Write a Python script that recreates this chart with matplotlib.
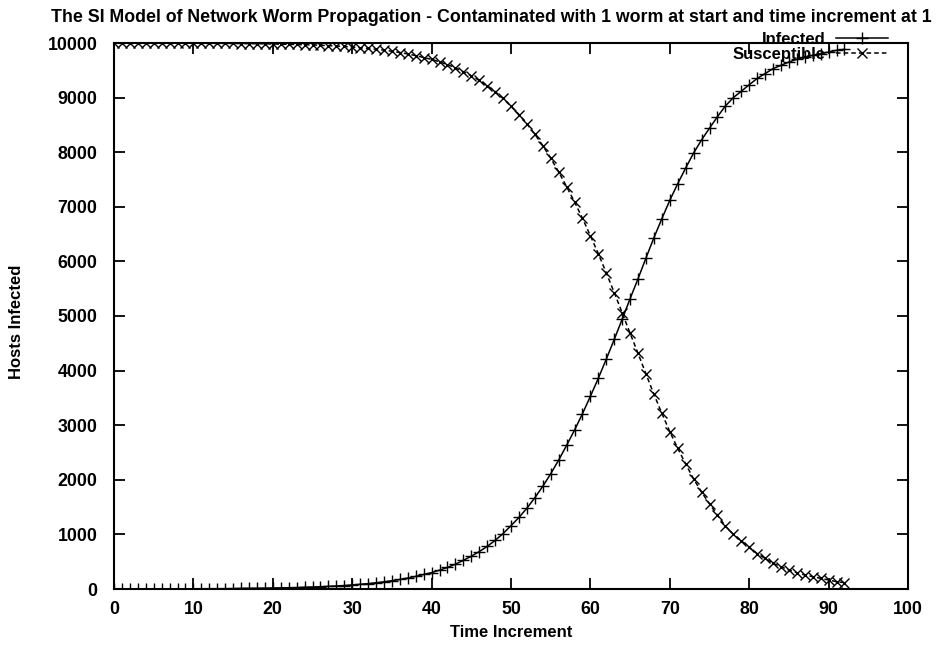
import matplotlib
matplotlib.use("Agg")
import matplotlib.pyplot as plt
from matplotlib.lines import Line2D

time = list(range(0, 93))
infected = [1, 1, 1, 2, 2, 2, 2, 3, 3, 4,
            4, 5, 6, 6, 7, 9, 10, 12, 13, 15,
            18, 21, 24, 27, 32, 36, 42, 48, 56, 64,
            74, 86, 99, 114, 131, 152, 174, 201, 231, 266,
            300, 345, 395, 455, 525, 600, 685, 780, 890, 1015,
            1160, 1310, 1480, 1670, 1880, 2110, 2360, 2630, 2910, 3210,
            3530, 3860, 4210, 4570, 4940, 5317, 5683, 6062, 6434, 6782,
            7119, 7424, 7711, 7985, 8225, 8440, 8650, 8846, 9000, 9115,
            9236, 9350, 9440, 9530, 9591, 9652, 9701, 9744, 9774, 9805,
            9835, 9866, 9884]
susceptible = [9999, 9999, 9999, 9998, 9998, 9998, 9998, 9997, 9997, 9996,
               9996, 9995, 9994, 9994, 9993, 9991, 9990, 9988, 9987, 9985,
               9982, 9979, 9976, 9973, 9968, 9964, 9958, 9952, 9944, 9936,
               9926, 9914, 9901, 9886, 9869, 9848, 9826, 9799, 9769, 9734,
               9700, 9655, 9605, 9545, 9475, 9400, 9315, 9220, 9110, 8985,
               8840, 8690, 8520, 8330, 8120, 7890, 7640, 7370, 7090, 6790,
               6470, 6140, 5790, 5430, 5060, 4683, 4317, 3938, 3566, 3218,
               2881, 2576, 2289, 2015, 1775, 1560, 1350, 1154, 1000, 885,
               764, 650, 560, 470, 409, 348, 299, 256, 226, 195,
               165, 134, 116]

x_ticks = [0, 10, 20, 30, 40, 50, 60, 70, 80, 90, 100]
y_ticks = [0, 1000, 2000, 3000, 4000, 5000, 6000, 7000, 8000, 9000, 10000]

plt.rcParams['font.family'] = ['Liberation Sans', 'DejaVu Sans']

W, H = 936, 647
fig = plt.figure(figsize=(W / 100, H / 100), dpi=100)
ax = fig.add_axes([114 / W, 1 - 589 / H, (908 - 114) / W, (589 - 43) / H])

ax.plot(time, infected, color='black', lw=1.1, ls='-', marker='+',
        markersize=8, markeredgewidth=1.0)
ax.plot(time, susceptible, color='black', lw=1.1, ls=(0, (3, 2)), marker='x',
        markersize=7, markeredgewidth=1.0)

ax.set_xlim(0, 100)
ax.set_ylim(0, 10000)
ax.set_xticks(x_ticks)
ax.set_yticks(y_ticks)
ax.set_xticklabels([str(v) for v in x_ticks])
ax.set_yticklabels([str(v) for v in y_ticks])
ax.tick_params(direction='in', length=8, width=1.3, top=True, right=True,
               labelsize=12.8)
ax.tick_params(axis='y', pad=12)
ax.tick_params(axis='x', pad=9)
for lab in ax.get_xticklabels() + ax.get_yticklabels():
    lab.set_fontweight('bold')
for s in ax.spines.values():
    s.set_linewidth(1.5)

ax.set_xlabel('Time Increment', fontsize=12, fontweight='bold', labelpad=5)
fig.text(17 / W, 1 - 322 / H, 'Hosts Infected', rotation=90, fontsize=12,
         fontweight='bold', ha='center', va='center')
fig.text(491 / W, 1 - 17 / H,
         'The SI Model of Network Worm Propagation - Contaminated with 1 worm at start and time increment at 1',
         fontsize=12.75, fontweight='bold', ha='center', va='center')

# gnuplot-style key
tr = fig.transFigure
def fx(px):
    return px / W
def fy(py):
    return 1 - py / H

fig.text(fx(826), fy(39), 'Infected', fontsize=12, fontweight='bold',
         ha='right', va='center')
fig.text(fx(826), fy(54), 'Susceptible', fontsize=12, fontweight='bold',
         ha='right', va='center')
fig.add_artist(Line2D([fx(836), fx(888)], [fy(38), fy(38)], transform=tr,
                      color='black', lw=1.1))
fig.add_artist(Line2D([fx(862)], [fy(38)], transform=tr, color='black',
                      marker='+', markersize=8, markeredgewidth=1.0, ls='none'))
fig.add_artist(Line2D([fx(836), fx(888)], [fy(53), fy(53)], transform=tr,
                      color='black', lw=1.1, ls=(0, (3, 2))))
fig.add_artist(Line2D([fx(862)], [fy(53)], transform=tr, color='black',
                      marker='x', markersize=7, markeredgewidth=1.0, ls='none'))

fig.savefig('out.png', dpi=100)
